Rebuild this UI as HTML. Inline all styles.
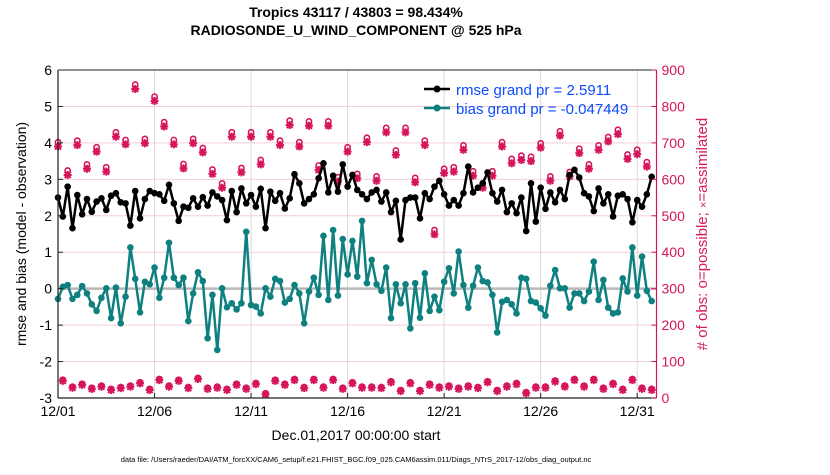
<!DOCTYPE html>
<html><head><meta charset="utf-8"><style>
body{margin:0;background:#fff;width:830px;height:470px;overflow:hidden;font-family:"Liberation Sans",sans-serif}
</style></head><body>
<svg id="c" width="830" height="470" xmlns="http://www.w3.org/2000/svg" font-family="Liberation Sans, sans-serif">
<rect width="830" height="470" fill="#fff"/>
<g id="grid"></g>
<g id="series"></g>
<g id="axes"></g>
<text x="356" y="17" font-size="14" font-weight="bold" text-anchor="middle">Tropics 43117 / 43803 = 98.434%</text>
<text x="356" y="35" font-size="14" font-weight="bold" text-anchor="middle">RADIOSONDE_U_WIND_COMPONENT @ 525 hPa</text>
<text transform="translate(26,234) rotate(-90)" font-size="14" text-anchor="middle">rmse and bias (model - observation)</text>
<text transform="translate(707,234) rotate(-90)" font-size="15" text-anchor="middle" fill="#d81b60"># of obs: o=possible; <tspan font-size="11">×</tspan>=assimilated</text>
<text x="356" y="440" font-size="14" text-anchor="middle">Dec.01,2017 00:00:00 start</text>
<text x="356" y="462" font-size="7.5" text-anchor="middle">data file: /Users/raeder/DAI/ATM_forcXX/CAM6_setup/f.e21.FHIST_BGC.f09_025.CAM6assim.011/Diags_NTrS_2017-12/obs_diag_output.nc</text>
<g>
<line x1="424" y1="89" x2="450" y2="89" stroke="#000" stroke-width="2.5"/><circle cx="437" cy="89" r="3.5" fill="#000"/>
<text x="456" y="95" font-size="15" fill="#0a4cff">rmse grand pr = 2.5911</text>
<line x1="424" y1="108" x2="450" y2="108" stroke="#0e8080" stroke-width="2.5"/><circle cx="437" cy="108" r="3.5" fill="#0e8080"/>
<text x="456" y="114" font-size="15" fill="#0a4cff">bias grand pr = -0.047449</text>
</g>
</svg>
<script>
const rmse=[2.50,1.98,2.80,1.66,2.57,2.04,2.46,2.11,2.39,2.48,2.16,2.55,2.62,2.37,2.34,1.73,2.68,1.93,2.46,2.68,2.62,2.59,2.41,2.85,2.34,1.86,2.25,2.22,2.48,2.25,2.51,2.28,
2.64,2.53,2.43,1.88,2.68,2.10,2.75,2.34,2.57,2.25,2.74,1.66,2.66,2.41,2.62,2.20,2.48,3.14,2.89,2.34,2.46,2.59,3.03,3.44,2.64,3.10,2.66,3.41,2.80,3.12,2.71,
2.59,2.46,2.64,2.71,2.39,2.64,2.10,2.41,1.35,2.43,2.50,2.50,1.93,2.62,2.46,2.80,2.96,2.59,2.28,2.43,2.28,2.62,3.35,2.64,2.77,2.89,3.19,2.62,2.39,2.71,2.10,
2.34,2.07,2.50,1.58,2.89,1.84,2.77,2.19,2.64,2.37,2.71,2.46,3.12,3.26,3.05,2.62,2.53,2.13,2.75,2.34,2.59,1.98,2.55,2.59,2.46,1.82,2.43,2.25,2.59,3.07];
const bias=[-0.28,0.05,0.10,-0.28,-0.17,0.07,-0.13,-0.43,-0.61,-0.25,0.01,-0.81,0.03,-0.95,-0.22,1.13,0.27,-0.65,0.19,0.12,0.58,-0.25,0.30,1.26,0.30,0.10,0.30,-0.89,-0.13,0.45,0.21,-1.36,
-0.17,-1.68,0.01,-0.51,-0.40,-0.57,-0.40,1.56,-0.45,-0.49,-0.68,0.01,-0.22,0.27,0.21,-0.38,-0.28,0.10,-0.13,-0.95,-0.08,0.30,-0.17,1.45,-0.31,1.61,-0.19,1.36,0.39,1.31,0.33,
1.86,0.15,0.79,0.12,-0.06,0.58,-0.81,0.12,-0.40,0.12,-1.09,0.15,-0.80,0.42,-0.61,-0.22,-0.59,0.19,0.56,-0.13,1.02,0.10,-0.52,0.08,0.58,0.21,0.17,-0.17,-1.20,-0.36,-0.31,
-0.43,-0.68,0.30,0.27,-0.34,-0.38,-0.54,-0.74,0.08,0.51,0.01,0.01,-0.52,-0.13,-0.13,-0.34,-0.08,0.74,-0.31,0.24,-0.52,-0.68,-0.65,0.28,-0.08,1.13,-0.19,0.88,-0.06,-0.34];
const possTop=[702,624,706,641,688,633,729,708,860,711,827,757,708,642,711,686,627,589,729,631,729,653,729,706,761,702,759,638,759,606,688,615,714,608,741,679,741,604,706,461,629,633,693,622,589,622,702,656,665,662,699,608,732,620,684,641,693,716,736,668,681,647];
const assimTop=[690,612,694,629,676,621,717,696,848,699,815,745,696,630,699,674,615,577,717,619,717,641,717,694,749,690,747,626,747,594,676,603,702,596,729,667,729,592,694,449,617,621,681,610,577,610,690,644,653,650,687,596,720,608,672,629,681,704,724,656,669,635];
const possBot=[50,31,39,28,34,25,30,34,43,25,52,34,50,30,55,28,31,25,39,28,41,13,50,39,52,30,52,31,52,28,43,31,31,30,46,22,43,22,39,31,34,28,34,30,46,22,34,41,16,31,31,48,34,52,34,52,28,41,25,52,28,25];
const assimBot=[47,28,36,25,31,22,27,31,40,22,49,31,47,27,52,25,28,22,36,25,38,10,47,36,49,27,49,28,49,25,40,28,28,27,43,19,40,19,36,28,31,25,31,27,43,19,31,38,13,28,28,45,31,49,31,49,25,38,22,49,25,22];
const xTickLabels=["12/01","12/06","12/11","12/16","12/21","12/26","12/31"];
const xTickDays=[0,5,10,15,20,25,30];
const yTicks=[-3,-2,-1,0,1,2,3,4,5,6];
const rTicks=[0,100,200,300,400,500,600,700,800,900];
const NS="http://www.w3.org/2000/svg";
const L=58,R=656.5,T=70,B=398;
const xd=d=>L+d*(R-L)/31;
const xi=i=>xd(i/4);
const yl=v=>T+(6-v)*(B-T)/9;
const yr=n=>B-n*(B-T)/900;
function mk(tag,attrs,parent){const e=document.createElementNS(NS,tag);for(const k in attrs)e.setAttribute(k,attrs[k]);parent.appendChild(e);return e;}
const grid=document.getElementById('grid'),ser=document.getElementById('series'),ax=document.getElementById('axes');
rTicks.forEach(n=>{const g=mk('line',{x1:L,x2:R,y1:yr(n),y2:yr(n),stroke:'#f3cfdc','stroke-width':1},grid);

});
xTickDays.forEach(d=>{const g=mk('line',{x1:xd(d),x2:xd(d),y1:T,y2:B,stroke:'#d9d9d9','stroke-width':1},grid);

});
const z=mk('line',{x1:L,x2:R,y1:yl(0),y2:yl(0),stroke:'#b8b8b8','stroke-width':2.5},grid);


const col='#d6145c';
function obsMark(x,yp,ya){
 const g=mk('g',{},ser);
 
 
 mk('circle',{cx:x,cy:yp,r:2.6,fill:'none',stroke:col,'stroke-width':1.6},g);
 mk('path',{d:`M${x-4} ${ya}h8M${x} ${ya-4}v8M${x-3} ${ya-3}l6 6M${x+3} ${ya-3}l-6 6`,stroke:col,'stroke-width':2},g);
}
for(let k=0;k<possTop.length;k++){obsMark(xi(2*k),yr(possTop[k]),yr(assimTop[k]));}
for(let k=0;k<possBot.length;k++){obsMark(xi(2*k+1),yr(possBot[k]),yr(assimBot[k]));}
function line(arr,c,name){
 const p=mk('polyline',{points:arr.map((v,i)=>xi(i)+','+yl(v)).join(' '),fill:'none',stroke:c,'stroke-width':2.5,'stroke-linejoin':'round'},ser);
 
 
 arr.forEach((v,i)=>{const d=mk('circle',{cx:xi(i),cy:yl(v),r:3.3,fill:c},ser);
 
 });
}
line(bias,'#0e8080','bias');
line(rmse,'#000','rmse');
mk('line',{x1:L,x2:R,y1:T,y2:T,stroke:'#222','stroke-width':1},ax);
mk('line',{x1:L,x2:R,y1:B,y2:B,stroke:'#222','stroke-width':1.2},ax);
mk('line',{x1:L,x2:L,y1:T,y2:B,stroke:'#222','stroke-width':1.2},ax);
mk('line',{x1:R,x2:R,y1:T,y2:B,stroke:col,'stroke-width':1.2},ax);
yTicks.forEach(v=>{mk('line',{x1:L,x2:L+5,y1:yl(v),y2:yl(v),stroke:'#222'},ax);
 const t=mk('text',{x:L-6,y:yl(v)+5,'font-size':14,'text-anchor':'end'},ax);t.textContent=v;
 
 });
rTicks.forEach(n=>{mk('line',{x1:R-5,x2:R,y1:yr(n),y2:yr(n),stroke:col},ax);
 const t=mk('text',{x:R+5,y:yr(n)+5,'font-size':14,fill:col},ax);t.textContent=n;
 
 });
xTickDays.forEach((d,i)=>{mk('line',{x1:xd(d),x2:xd(d),y1:B,y2:B-5,stroke:'#222'},ax);
 const t=mk('text',{x:xd(d),y:B+18,'font-size':14,'text-anchor':'middle'},ax);t.textContent=xTickLabels[i];
 
 });
</script>
</body></html>
